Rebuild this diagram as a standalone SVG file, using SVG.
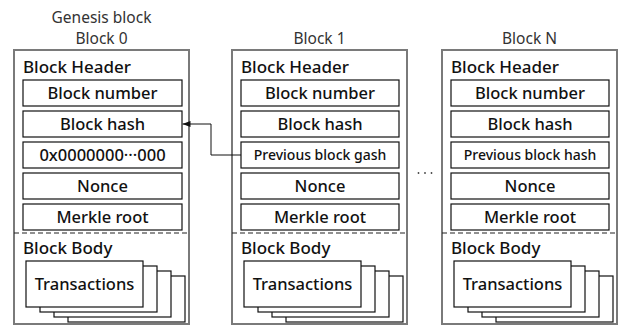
<svg xmlns="http://www.w3.org/2000/svg" width="618" height="325" viewBox="0 0 618 325">
<defs>
<style>
text{font-family:"Noto Sans","DejaVu Sans",sans-serif;fill:#111;font-weight:500}
.title{font-size:15.5px;fill:#333;text-anchor:middle;font-weight:400}
.hdr{font-size:17px}
.outer{fill:#fff;stroke:#7a7a7a;stroke-width:2}
.inner{fill:#fff;stroke:#111;stroke-width:1.2}
.lbl{font-size:16.5px;text-anchor:middle}
.sm{font-size:14px;text-anchor:middle}
.tt{font-size:16.5px;text-anchor:middle}
.dash{stroke:#222;stroke-width:1.2;stroke-dasharray:5 3}
.tx{fill:#fff;stroke:#111;stroke-width:1.2}
</style>
<marker id="ah" viewBox="0 0 8 6" refX="8" refY="3" markerWidth="8" markerHeight="6" orient="auto" markerUnits="userSpaceOnUse">
<path d="M0,0 L8,3 L0,6 z" fill="#111"/>
</marker>
<g id="txstack">
<rect class="tx" x="42" y="211" width="117" height="46"/>
<rect class="tx" x="28" y="206" width="117" height="46"/>
<rect class="tx" x="14" y="201" width="117" height="46"/>
<rect class="tx" x="0" y="196" width="117" height="46"/>
<text x="58.5" y="225" class="tt">Transactions</text>
</g>
</defs>

<g id="block0">
<text class="title" x="101.5" y="23">Genesis block</text>
<text class="title" x="101.5" y="44">Block 0</text>
<rect class="outer" x="14" y="50" width="175" height="274"/>
<text class="hdr" x="23" y="73">Block Header</text>
<rect class="inner" x="23" y="80" width="159" height="26"/>
<text class="lbl" x="102.5" y="99">Block number</text>
<rect class="inner" x="23" y="111" width="159" height="26"/>
<text class="lbl" x="102.5" y="130">Block hash</text>
<rect class="inner" x="23" y="142" width="159" height="26"/>
<text class="lbl" x="102.5" y="161">0x0000000···000</text>
<rect class="inner" x="23" y="173" width="159" height="26"/>
<text class="lbl" x="102.5" y="192">Nonce</text>
<rect class="inner" x="23" y="204" width="159" height="26"/>
<text class="lbl" x="102.5" y="223">Merkle root</text>
<line class="dash" x1="14" y1="233" x2="189" y2="233"/>
<text class="hdr" x="23" y="254">Block Body</text>
<use href="#txstack" x="26" y="65"/>
</g>

<g id="block1">
<text class="title" x="319.5" y="44">Block 1</text>
<rect class="outer" x="232" y="50" width="175" height="274"/>
<text class="hdr" x="241" y="73">Block Header</text>
<rect class="inner" x="241" y="80" width="158" height="26"/>
<text class="lbl" x="320" y="99">Block number</text>
<rect class="inner" x="241" y="111" width="158" height="26"/>
<text class="lbl" x="320" y="130">Block hash</text>
<rect class="inner" x="241" y="142" width="158" height="26"/>
<text class="sm" x="320" y="160">Previous block gash</text>
<rect class="inner" x="241" y="173" width="158" height="26"/>
<text class="lbl" x="320" y="192">Nonce</text>
<rect class="inner" x="241" y="204" width="158" height="26"/>
<text class="lbl" x="320" y="223">Merkle root</text>
<line class="dash" x1="232" y1="233" x2="407" y2="233"/>
<text class="hdr" x="241" y="254">Block Body</text>
<use href="#txstack" x="244" y="65"/>
</g>

<g id="blockN">
<text class="title" x="529.5" y="44">Block N</text>
<rect class="outer" x="442" y="50" width="175" height="274"/>
<text class="hdr" x="451" y="73">Block Header</text>
<rect class="inner" x="451" y="80" width="158" height="26"/>
<text class="lbl" x="530" y="99">Block number</text>
<rect class="inner" x="451" y="111" width="158" height="26"/>
<text class="lbl" x="530" y="130">Block hash</text>
<rect class="inner" x="451" y="142" width="158" height="26"/>
<text class="sm" x="530" y="160">Previous block hash</text>
<rect class="inner" x="451" y="173" width="158" height="26"/>
<text class="lbl" x="530" y="192">Nonce</text>
<rect class="inner" x="451" y="204" width="158" height="26"/>
<text class="lbl" x="530" y="223">Merkle root</text>
<line class="dash" x1="442" y1="233" x2="617" y2="233"/>
<text class="hdr" x="451" y="254">Block Body</text>
<use href="#txstack" x="454" y="65"/>
</g>

<g id="ellipsis" fill="#444">
<circle cx="418.5" cy="173" r="0.9"/>
<circle cx="425" cy="173" r="0.9"/>
<circle cx="431.5" cy="173" r="0.9"/>
</g>

<g id="connectors">
<polyline points="241,155 211,155 211,124 182.5,124" fill="none" stroke="#111" stroke-width="1" marker-end="url(#ah)"/>
</g>
</svg>
